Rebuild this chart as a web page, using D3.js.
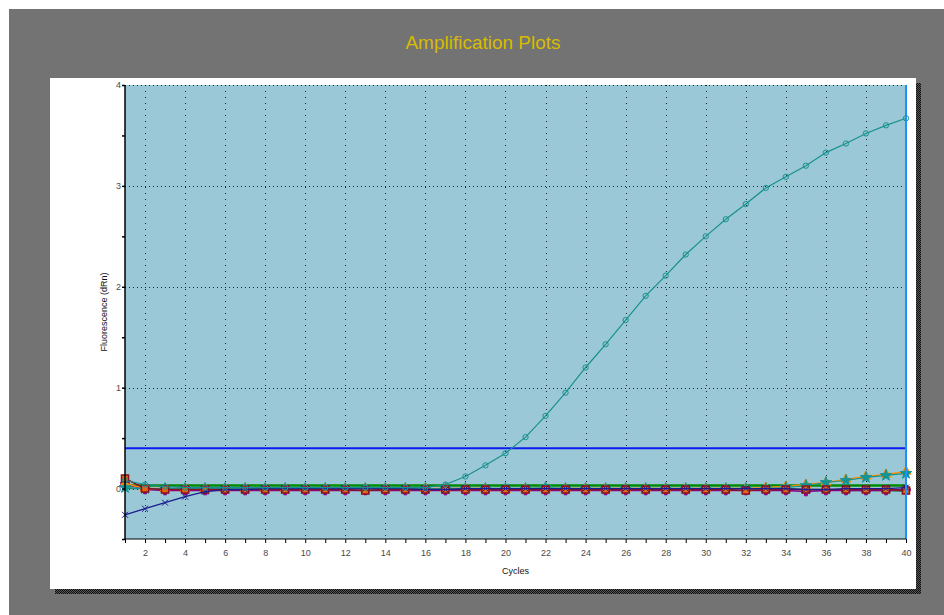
<!DOCTYPE html>
<html>
<head>
<meta charset="utf-8">
<script src="https://cdn.jsdelivr.net/npm/d3@7"></script>
<style>
  body { margin: 0; background: #fff; }
  .tickText { font-family: "Liberation Sans", Arial, sans-serif; font-size: 9px; fill: #4a4a4a; }
  .axisText { font-family: "Liberation Sans", Arial, sans-serif; font-size: 9px; fill: #111; }
</style>
</head>
<body>
<div id="chart"></div>
<script>
// Chart data
let cycles = [1,2,3,4,5,6,7,8,9,10,11,12,13,14,15,16,17,18,19,20,
              21,22,23,24,25,26,27,28,29,30,31,32,33,34,35,36,37,38,39,40];

let ampCurve = [0.08,0.04,0.02,0.01,0.01,0.01,0.01,0.01,0.01,0.01,0.01,0.01,0.01,0.01,0.01,0.01,
                0.04,0.12,0.23,0.35,0.51,0.72,0.95,1.2,1.43,1.67,1.91,2.11,2.32,2.5,
                2.67,2.82,2.98,3.09,3.2,3.33,3.42,3.52,3.6,3.67];

let navyX = [-0.26,-0.2,-0.14,-0.08,-0.03,-0.01,-0.01,0,0,0,0,0,0,0,0,-0.01,-0.01,0,0,0,
             0,0,0,0,0,0,0,0,0,0,0,0,0,0,-0.01,-0.01,0,0,0,0.01];

let redSquares = [0.1,0,-0.01,-0.01,-0.01,-0.01,-0.01,-0.01,-0.01,-0.01,-0.01,-0.01,-0.02,-0.01,-0.01,-0.01,-0.01,-0.01,-0.01,-0.01,
                  -0.01,-0.01,-0.01,-0.01,-0.01,-0.01,-0.01,-0.01,-0.01,-0.01,-0.01,-0.02,-0.01,-0.01,-0.01,-0.01,-0.01,-0.01,-0.01,-0.02];

let greenFlat = [0.03,0.03,0.03,0.03,0.03,0.03,0.03,0.03,0.03,0.03,0.03,0.03,0.03,0.03,0.03,0.03,0.03,0.03,0.03,0.03,
                 0.03,0.03,0.03,0.03,0.03,0.03,0.03,0.03,0.03,0.03,0.03,0.03,0.03,0.03,0.03,0.03,0.03,0.03,0.03,0.03];

let greenLow = [0,0,-0.01,-0.01,0,0,0,0,0,0,0,0,0,0,-0.01,-0.01,0,0,0,0,
                0,0,0,0,0,0,0,0,0,0,0,0,0,0,-0.01,-0.01,-0.02,-0.02,-0.02,-0.03];

let orangeLate = [0.05,0,0,0,0,0,0,0,0,0,0,0,0,0,0,0,0,0,0,-0.01,
                  0,0,0,0,0,0,0,0,0,0,0,0,0.01,0.02,0.04,0.06,0.09,0.12,0.14,0.17];

let tealStars = [0.01,0,0,0,0,0,0,0,0,0,0,0,0,0,0,0,0,0,0,0,
                 0,0.01,0,0,0,0,0,0,0,0,0,0,0,0.01,0.03,0.06,0.08,0.11,0.13,0.15];

let purpleFlat = [0.05,-0.01,-0.02,-0.02,-0.02,-0.02,-0.02,-0.02,-0.02,-0.02,-0.02,-0.02,-0.02,-0.02,-0.02,-0.02,-0.02,-0.02,-0.02,-0.02,
                  -0.02,-0.02,-0.02,-0.02,-0.02,-0.02,-0.02,-0.02,-0.02,-0.02,-0.02,-0.02,-0.02,-0.02,-0.03,-0.02,-0.02,-0.02,-0.02,-0.01];

let thresholdValue = 0.4;
let yTickValues = [-0.5,0,0.5,1,1.5,2,2.5,3,3.5,4];

// series list built from the arrays above
let series = [
    {name: "green", values: greenFlat, color: "#008a00", symbol: null, width: 2.5},
    {name: "greenLow", values: greenLow, color: "#2e8b57", symbol: null, width: 1.5},
    {name: "purple", values: purpleFlat, color: "#8b008b", symbol: d3.symbolCross, width: 1.5},
    {name: "orange", values: orangeLate, color: "#ff8c00", symbol: d3.symbolTriangle, width: 1.5},
    {name: "tealStars", values: tealStars, color: "#139595", symbol: d3.symbolStar, width: 1.2},
    {name: "redSquares", values: redSquares, color: "#8b1020", symbol: d3.symbolSquare, width: 1.5},
    {name: "navy", values: navyX, color: "#1c1c8c", symbol: "x", width: 1.3},
    {name: "amp", values: ampCurve, color: "#17908f", symbol: d3.symbolCircle, width: 1.2}
];

// svg dimensions
let svgWidth = 944;
let svgHeight = 615;

let plot = {left: 125, right: 906, top: 85, bottom: 539};

let svg = d3.select("#chart")
    .append("svg")
    .attr("width", svgWidth)
    .attr("height", svgHeight);

// checker pattern for the panel shadow
let defs = svg.append("defs");
let pat = defs.append("pattern")
    .attr("id", "checker")
    .attr("width", 2)
    .attr("height", 2)
    .attr("patternUnits", "userSpaceOnUse");
pat.append("rect").attr("width", 2).attr("height", 2).attr("fill", "#555");
pat.append("rect").attr("width", 1).attr("height", 1).attr("fill", "#111");
pat.append("rect").attr("x", 1).attr("y", 1).attr("width", 1).attr("height", 1).attr("fill", "#111");

// gray backdrop
svg.append("rect")
    .attr("x", 9).attr("y", 9)
    .attr("width", svgWidth - 9).attr("height", svgHeight - 9)
    .attr("fill", "#737373");

// shadow and white panel
svg.append("rect")
    .attr("x", 55).attr("y", 83)
    .attr("width", 866).attr("height", 511)
    .attr("fill", "url(#checker)");
svg.append("rect")
    .attr("x", 50).attr("y", 78)
    .attr("width", 866).attr("height", 511)
    .attr("fill", "#fff");

// title
svg.append("text")
    .attr("x", 483)
    .attr("y", 49)
    .attr("text-anchor", "middle")
    .style("font-family", "'Liberation Sans', Arial, sans-serif")
    .style("font-size", "19px")
    .style("fill", "#d8bc00")
    .text("Amplification Plots");

// scales
let xScale = d3.scaleLinear()
    .domain([1, 40])
    .range([plot.left, plot.right]);

let yScale = d3.scaleLinear()
    .domain([-0.5, 4])
    .range([plot.bottom, plot.top]);

// plot background
svg.append("rect")
    .attr("x", plot.left)
    .attr("y", plot.top)
    .attr("width", plot.right - plot.left)
    .attr("height", plot.bottom - plot.top)
    .attr("fill", "#9bc8d6");

// dotted grid
let gridGroup = svg.append("g");
gridGroup.selectAll("line.vgrid")
    .data(cycles.filter(c => c % 2 === 0 && c < 40))
    .enter()
    .append("line")
    .attr("x1", d => Math.round(xScale(d)) + 0.5).attr("x2", d => Math.round(xScale(d)) + 0.5)
    .attr("y1", plot.top).attr("y2", plot.bottom)
    .attr("stroke", "#000")
    .attr("stroke-width", 1)
    .attr("stroke-dasharray", "1,5")
    .attr("opacity", 0.8);

gridGroup.selectAll("line.hgrid")
    .data([0, 1, 2, 3, 4])
    .enter()
    .append("line")
    .attr("x1", plot.left).attr("x2", plot.right)
    .attr("y1", d => Math.round(yScale(d)) + 0.5).attr("y2", d => Math.round(yScale(d)) + 0.5)
    .attr("stroke", "#000")
    .attr("stroke-width", 1)
    .attr("stroke-dasharray", "1,3")
    .attr("opacity", 0.8);

// threshold line
svg.append("line")
    .attr("x1", plot.left).attr("x2", plot.right)
    .attr("y1", yScale(thresholdValue)).attr("y2", yScale(thresholdValue))
    .attr("stroke", "#0a1cf0")
    .attr("stroke-width", 2);

// series lines and markers
let line = d3.line()
    .x((d, i) => xScale(cycles[i]))
    .y(d => yScale(d));

let seriesGroup = svg.append("g");
series.forEach(function(s) {
    seriesGroup.append("path")
        .datum(s.values)
        .attr("d", line)
        .attr("fill", "none")
        .attr("stroke", s.color)
        .attr("stroke-width", s.width);

    if (s.symbol === "x") {
        seriesGroup.selectAll(null)
            .data(s.values)
            .enter()
            .append("path")
            .attr("d", "M-3,-3L3,3M-3,3L3,-3")
            .attr("transform", (d, i) => `translate(${xScale(cycles[i])}, ${yScale(d)})`)
            .attr("stroke", s.color)
            .attr("stroke-width", 1);
    } else if (s.symbol) {
        let sym = d3.symbol().type(s.symbol).size(s.name === "amp" ? 22 : (s.name === "redSquares" ? 50 : 40));
        seriesGroup.selectAll(null)
            .data(s.values)
            .enter()
            .append("path")
            .attr("d", sym)
            .attr("transform", (d, i) => `translate(${xScale(cycles[i])}, ${yScale(d)})`)
            .attr("fill", s.name === "redSquares" ? "#e06a10" : (s.name === "amp" ? "none" : s.color))
            .attr("stroke", s.color)
            .attr("stroke-width", s.name === "redSquares" ? 1.5 : 1);
    }
});

// right cursor line
svg.append("line")
    .attr("x1", plot.right).attr("x2", plot.right)
    .attr("y1", plot.top).attr("y2", plot.bottom)
    .attr("stroke", "#1e8fff")
    .attr("stroke-width", 2);

// axes
let bottomAxis = d3.axisBottom(xScale)
    .tickValues(cycles)
    .tickSize(4)
    .tickFormat(d => d % 2 === 0 ? d : "");

let leftAxis = d3.axisLeft(yScale)
    .tickValues(yTickValues)
    .tickSize(3)
    .tickFormat(d => Number.isInteger(d) ? d : "");

let xAxisG = svg.append("g")
    .attr("transform", `translate(0, ${plot.bottom})`)
    .call(bottomAxis);
xAxisG.select(".domain").attr("stroke", "#000").attr("d", `M${plot.left},0H${plot.right}`);
xAxisG.selectAll("text").attr("class", "tickText").attr("y", 11).attr("fill", null);

let yAxisG = svg.append("g")
    .attr("transform", `translate(${plot.left}, 0)`)
    .call(leftAxis);
yAxisG.select(".domain").attr("stroke", "#000").attr("stroke-width", 1.5).attr("d", `M0,${plot.bottom}V${plot.top}`);
yAxisG.selectAll("line").attr("stroke-width", 1.5);
yAxisG.selectAll("text").attr("class", "tickText").attr("x", -4).attr("fill", null);

// axis labels
svg.append("text")
    .attr("transform", `translate(107, ${(plot.top + plot.bottom) / 2}) rotate(-90)`)
    .attr("text-anchor", "middle")
    .attr("class", "axisText")
    .text("Fluorescence (dRn)");

svg.append("text")
    .attr("x", (plot.left + plot.right) / 2)
    .attr("y", 574)
    .attr("text-anchor", "middle")
    .attr("class", "axisText")
    .text("Cycles");
</script>
</body>
</html>
